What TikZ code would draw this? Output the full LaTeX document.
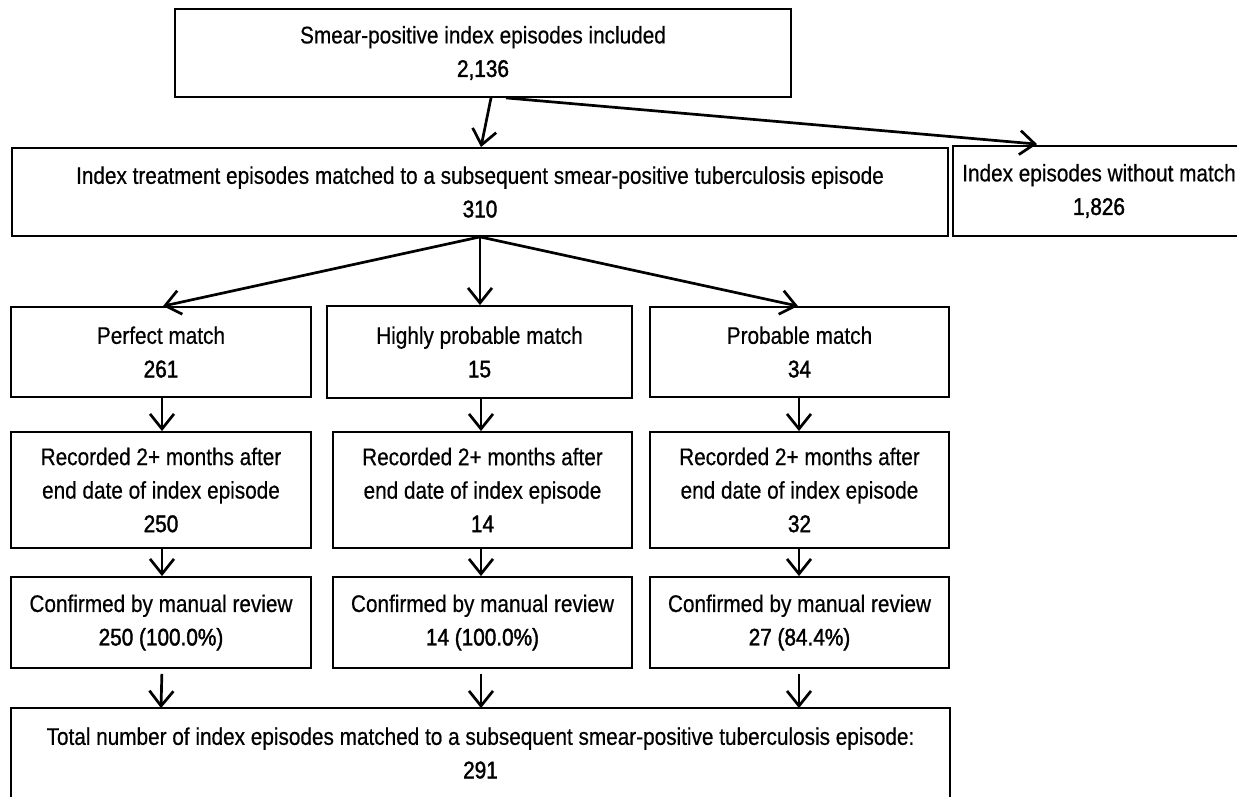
\documentclass[tikz,border=0pt]{standalone}
\usepackage{fontspec}
\setmainfont{Liberation Sans}[FakeStretch=0.865,FakeBold=0.5]
\newfontfamily\numf{Liberation Sans}[FakeStretch=0.865,FakeBold=1.6]
\usetikzlibrary{arrows.meta}
\begin{document}
\begin{tikzpicture}[x=1pt,y=-1pt,
  boxstyle/.style={draw=black, line width=1.8pt, inner sep=0pt, align=center,
    font=\fontsize{24}{33.5}\selectfont, minimum height=88pt},
  openbox/.style={boxstyle, draw=none},
  flow/.style={line width=2.7pt, -{Straight Barb[length=15pt,width=24pt]}}]
\useasboundingbox (0,0) rectangle (1237,797);
\fill[white] (0,0) rectangle (1237,797);

% boxes
\node[boxstyle, minimum width=616pt] (top) at (483,53) {Smear-positive index episodes included\\{\numf 2,136}};
\node[boxstyle, minimum width=936pt] (match) at (480,192) {Index treatment episodes matched to a subsequent smear-positive tuberculosis episode\\{\numf 310}};
\node[openbox, minimum width=290pt] (nomatch) at (1099,191) {Index episodes without match\\{\numf 1,826}};
\draw[line width=1.8pt] ([xshift=-7pt]nomatch.north east) -- (nomatch.north west) -- (nomatch.south west) -- ([xshift=-7pt]nomatch.south east);

\node[boxstyle, minimum width=300pt, minimum height=90pt] (p1) at (161,352) {Perfect match\\{\numf 261}};
\node[boxstyle, minimum width=305pt, minimum height=92pt] (h1) at (479.5,352) {Highly probable match\\{\numf 15}};
\node[boxstyle, minimum width=299pt, minimum height=90pt] (b1) at (799.5,352) {Probable match\\{\numf 34}};

\node[boxstyle, minimum width=300pt, minimum height=116pt] (p2) at (161,490) {Recorded 2+ months after\\end date of index episode\\{\numf 250}};
\node[boxstyle, minimum width=299pt, minimum height=116pt] (h2) at (482.5,490) {Recorded 2+ months after\\end date of index episode\\{\numf 14}};
\node[boxstyle, minimum width=299pt, minimum height=116pt] (b2) at (799.5,490) {Recorded 2+ months after\\end date of index episode\\{\numf 32}};

\node[boxstyle, minimum width=300pt, minimum height=91pt] (p3) at (161,622.5) {Confirmed by manual review\\{\numf 250 (100.0\%)}};
\node[boxstyle, minimum width=299pt, minimum height=91pt] (h3) at (482.5,622.5) {Confirmed by manual review\\{\numf 14 (100.0\%)}};
\node[boxstyle, minimum width=299pt, minimum height=91pt] (b3) at (799.5,622.5) {Confirmed by manual review\\{\numf 27 (84.4\%)}};

\node[openbox, minimum width=937pt] (total) at (480.5,753) {Total number of index episodes matched to a subsequent smear-positive tuberculosis episode:\\{\numf 291}};
\draw[line width=1.8pt] (total.south west) -- (total.north west) -- (total.north east) -- (total.south east);

% connectors
\draw[flow] ([xshift=8pt]top.south) -- ([xshift=1pt]match.north);
\draw[flow] ([xshift=23pt]top.south) -- ([xshift=-62pt,yshift=2pt]nomatch.north);
\draw[flow] (match.south) -- ([xshift=2pt]p1.north);
\draw[flow] (match.south) -- ([xshift=0.5pt]h1.north);
\draw[flow] (match.south) -- ([xshift=-1.5pt]b1.north);

\draw[flow] ([xshift=1pt]p1.south) -- ([xshift=1pt]p2.north);
\draw[flow] ([xshift=1.5pt]h1.south) -- ([xshift=-1.5pt]h2.north);
\draw[flow] ([xshift=-0.5pt]b1.south) -- ([xshift=-0.5pt]b2.north);

\draw[flow] ([xshift=1pt]p2.south) -- ([xshift=1pt]p3.north);
\draw[flow] ([xshift=-1.5pt]h2.south) -- ([xshift=-1.5pt]h3.north);
\draw[flow] ([xshift=-0.5pt]b2.south) -- ([xshift=-0.5pt]b3.north);

\draw[flow, shorten <=5pt] ([xshift=1pt]p3.south) -- (p3.south |- total.north);
\draw[flow, shorten <=5pt] ([xshift=-1.5pt]h3.south) -- ([xshift=-1.5pt]h3.south |- total.north);
\draw[flow, shorten <=5pt] ([xshift=-0.5pt]b3.south) -- ([xshift=-0.5pt]b3.south |- total.north);
\end{tikzpicture}
\end{document}
